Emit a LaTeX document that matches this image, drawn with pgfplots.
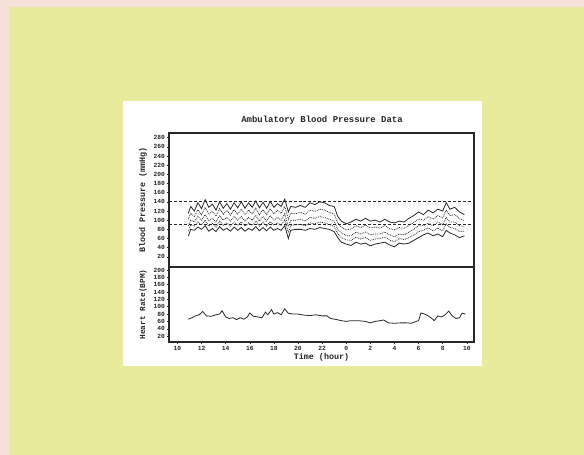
\documentclass[border=0pt]{standalone}
\usepackage{pgfplots}
\pgfplotsset{compat=1.18}
\usepackage{pgfplotstable}
\usepackage{fontspec}
\setmainfont{Liberation Mono}
\definecolor{pinkbg}{RGB}{245,225,217}
\definecolor{yellowbg}{RGB}{232,235,155}
\definecolor{ink}{RGB}{40,40,40}

\pgfplotstableread{
t S U M L D
10.9 115 102 88 76 65
11.1 130 115 100 90 80
11.4 120 108 96 87 78
11.7 138 123 108 96 85
12.0 125 112 100 90 80
12.3 145 128 112 100 88
12.6 128 113 98 87 76
12.9 135 119 104 93 82
13.2 122 109 96 85 75
13.5 140 125 110 98 86
13.8 126 113 100 89 78
14.1 136 121 106 94 82
14.4 124 111 98 87 76
14.7 138 123 108 96 85
15.0 127 113 100 89 78
15.3 140 124 108 96 84
15.6 126 112 98 87 76
15.9 138 122 106 94 82
16.2 128 114 100 89 78
16.5 142 126 110 98 86
16.8 127 112 98 87 77
17.1 139 123 108 96 84
17.4 126 112 98 87 77
17.7 141 125 110 97 85
18.0 128 114 100 89 78
18.3 136 121 106 94 82
18.6 130 115 100 89 78
18.9 146 130 114 101 88
19.2 118 102 86 73 60
19.4 130 115 100 89 78
19.8 128 114 100 90 80
20.2 132 117 102 91 80
20.6 128 113 98 88 78
21.0 138 122 106 94 82
21.4 134 119 104 92 80
21.8 140 124 108 96 84
22.2 138 122 106 94 82
22.6 132 117 102 91 80
23.0 130 114 98 86 75
23.3 108 94 80 71 62
23.6 98 85 72 62 52
24.0 92 79 66 57 48
24.4 96 81 66 56 45
24.8 102 88 74 63 52
25.2 98 84 70 59 48
25.6 104 89 74 62 50
26.0 98 83 68 56 44
26.4 100 85 70 59 48
26.8 96 83 70 60 50
27.2 102 88 74 63 52
27.6 96 82 68 57 46
28.0 94 79 64 53 42
28.4 98 84 70 60 50
28.8 96 82 68 58 48
29.2 104 89 74 62 50
29.6 110 95 80 68 56
30.0 118 103 88 75 62
30.4 112 100 88 78 68
30.8 122 108 94 83 72
31.2 116 102 88 77 66
31.6 124 110 96 83 70
32.0 120 105 90 77 64
32.3 138 122 106 92 78
32.6 124 110 96 84 72
33.0 128 112 96 82 68
33.4 118 103 88 75 62
33.8 112 99 86 76 66
}\bpdata

\pgfplotstableread{
t HR
10.9 66
11.2 70
11.5 75
11.8 78
12.1 87
12.4 75
12.8 74
13.2 78
13.5 80
13.7 89
14.0 72
14.3 68
14.6 70
14.9 65
15.2 70
15.5 66
15.8 72
16.0 83
16.3 74
16.7 72
17.0 70
17.3 85
17.5 78
17.8 92
18.0 80
18.3 84
18.6 78
18.9 94
19.2 82
19.6 80
20.0 80
20.5 77
21.0 76
21.5 78
22.0 75
22.4 75
22.7 68
23.2 65
23.6 62
24.0 60
24.4 62
25.0 62
25.6 60
26.0 56
26.4 60
26.8 62
27.1 64
27.5 56
28.0 55
28.5 56
29.0 56
29.4 55
29.8 60
30.0 62
30.2 83
30.5 80
30.8 75
31.1 68
31.3 62
31.6 75
31.9 72
32.2 78
32.5 88
32.8 75
33.1 68
33.4 70
33.6 82
33.9 80
}\hrdata

\begin{document}
\begin{tikzpicture}
\path[use as bounding box] (0bp,0bp) rectangle (584bp,455bp);
\fill[pinkbg] (0bp,0bp) rectangle (584bp,455bp);
\fill[yellowbg] (9bp,0bp) rectangle (584bp,448bp);
\fill[white] (123bp,89bp) rectangle (482bp,354bp);
\node[font=\bfseries\fontsize{9}{10}\selectfont, text=ink] at (322bp,335bp) {Ambulatory Blood Pressure Data};

\pgfplotsset{
  bpstyle/.style={
    scale only axis, width=305bp,
    xmin=9.3, xmax=34.6,
    axis line style={ink, line width=1.1pt},
    tick style={ink, line width=0.5pt},
    major tick length=2bp, minor tick length=1.5bp,
    tick align=outside,
    xtick pos=bottom, ytick pos=left,
    /pgf/number format/assume math mode=true,
    ticklabel style={font=\bfseries\fontsize{6.3}{6.3}\selectfont, text=ink},
    yticklabel style={xshift=1.5bp},
    label style={font=\bfseries\fontsize{8.4}{9}\selectfont, text=ink},
    ylabel style={at={(axis description cs:-0.085,0.5)}, anchor=center},
  }
}

% top panel
\begin{axis}[bpstyle,
  at={(169bp,188bp)}, anchor=south west, height=134bp,
  ymin=-2, ymax=290,
  ytick={20,40,...,280},
  xtick=\empty,
  ylabel={Blood Pressure (mmHg)},
]
\addplot[ink, densely dashed, line width=0.7pt] coordinates {(9.3,140) (34.6,140)};
\addplot[ink, densely dashed, line width=0.7pt] coordinates {(9.3,90) (34.6,90)};
\addplot[ink, line width=0.8pt] table[x=t, y=S] {\bpdata};
\addplot[ink, densely dotted, line width=0.8pt] table[x=t, y=U] {\bpdata};
\addplot[ink, densely dotted, line width=0.8pt] table[x=t, y=M] {\bpdata};
\addplot[ink, densely dotted, line width=0.8pt] table[x=t, y=L] {\bpdata};
\addplot[ink, line width=0.8pt] table[x=t, y=D] {\bpdata};
\end{axis}

% bottom panel
\begin{axis}[bpstyle,
  at={(169bp,113bp)}, anchor=south west, height=75bp,
  ymin=4, ymax=208,
  ytick={20,40,...,200},
  xtick={10,12,...,34},
  xticklabels={10,12,14,16,18,20,22,0,2,4,6,8,10},
  minor xtick={11,13,...,33},
  xlabel={Time (hour)},
  xlabel style={at={(axis description cs:0.5,0)}, anchor=north, yshift=-8bp},
  xticklabel style={yshift=1bp},
  ylabel={Heart Rate(BPM)},
  ylabel style={font=\bfseries\fontsize{7.8}{8}\selectfont},
]
\addplot[ink, line width=0.8pt] table[x=t, y=HR] {\hrdata};
\end{axis}
\end{tikzpicture}
\end{document}
